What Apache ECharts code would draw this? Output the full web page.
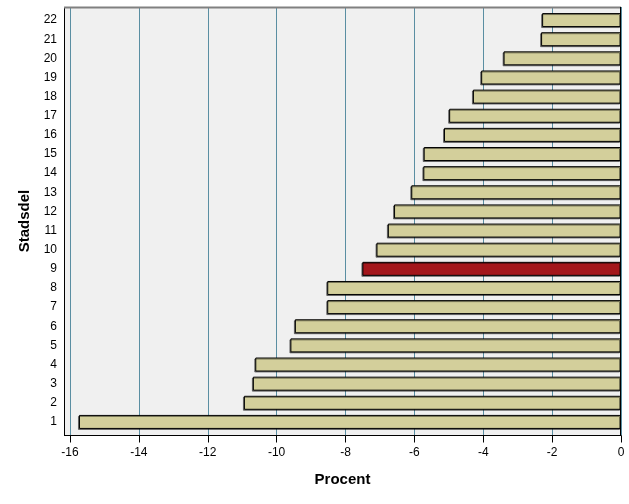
<!DOCTYPE html>
<html>
<head>
<meta charset="utf-8">
<script src="https://cdn.jsdelivr.net/npm/echarts@6/dist/echarts.min.js"></script>
<style>
  html, body { margin: 0; padding: 0; background: #ffffff; }
  #chart { width: 629px; height: 504px; }
</style>
</head>
<body>
<div id="chart"></div>
<script>
// Data
var categories = ['1','2','3','4','5','6','7','8','9','10','11','12','13','14','15','16','17','18','19','20','21','22'];
var values = [-15.74, -10.95, -10.69, -10.62, -9.60, -9.47, -8.53, -8.53, -7.51, -7.10, -6.77, -6.59, -6.09, -5.74, -5.73, -5.14, -4.99, -4.30, -4.06, -3.41, -2.32, -2.29];
var highlighted = '9';
var xTicks = { min: -16, max: 0, step: 2 };
var xTitle = 'Procent';
var yTitle = 'Stadsdel';

var FONT = 'Liberation Sans, Arial, sans-serif';
var barColor = '#d3cf9b';
var hiColor = '#a3161b';
var gridColor = '#5a8ea2';

var seriesData = values.map(function (v, i) {
  return {
    value: v,
    itemStyle: { color: categories[i] === highlighted ? hiColor : barColor }
  };
});

var chart = echarts.init(document.getElementById('chart'), null, { renderer: 'canvas' });
chart.setOption({
  animation: false,
  backgroundColor: '#ffffff',
  grid: [
    { left: 70, right: 8, top: 10.5, bottom: 72.5 },
    { left: 70, right: 8, top: 7, bottom: 68.5, show: true, backgroundColor: '#f0f0f0', borderWidth: 0 }
  ],
  xAxis: [
    { gridIndex: 0, type: 'value', min: xTicks.min, max: xTicks.max, show: false },
    {
      gridIndex: 1, type: 'value', min: xTicks.min, max: xTicks.max, interval: xTicks.step,
      axisLine: { show: true, onZero: false, lineStyle: { color: '#000', width: 1 } },
      axisTick: { show: true, length: 7, lineStyle: { color: '#000' } },
      axisLabel: { color: '#000', fontFamily: FONT, fontSize: 12, margin: 11 },
      splitLine: { show: true, lineStyle: { color: gridColor, width: 1 } },
      name: xTitle, nameLocation: 'middle', nameGap: 37,
      nameTextStyle: { color: '#000', fontFamily: FONT, fontSize: 15, fontWeight: 'bold', padding: [0, 6, 0, 0] }
    }
  ],
  yAxis: [
    {
      gridIndex: 0, type: 'category', data: categories, offset: 6,
      axisLine: { show: false },
      axisTick: { show: true, alignWithLabel: true, length: 6, lineStyle: { color: '#000' } },
      axisLabel: { color: '#000', fontFamily: FONT, fontSize: 12, margin: 7 },
      name: yTitle, nameLocation: 'middle', nameGap: 32, nameRotate: 90,
      nameTextStyle: { color: '#000', fontFamily: FONT, fontSize: 15, fontWeight: 'bold' }
    },
    { gridIndex: 1, type: 'value', min: 0, max: 1, show: false }
  ],
  series: [{
    type: 'bar',
    xAxisIndex: 0, yAxisIndex: 0,
    data: seriesData,
    barWidth: 14,
    itemStyle: {
      borderColor: '#000', borderWidth: 1,
      shadowColor: 'rgba(0,0,0,0.45)', shadowOffsetX: -1, shadowOffsetY: 1, shadowBlur: 0
    },
    z: 3
  }],
  graphic: [
    { type: 'rect', shape: { x: 64, y: 7, width: 6, height: 428.5 }, style: { fill: '#f0f0f0' }, z: -10, silent: true },
    { type: 'line', shape: { x1: 64.5, y1: 7, x2: 64.5, y2: 436 }, style: { stroke: '#000', lineWidth: 1 }, z: 20, silent: true },
    { type: 'line', shape: { x1: 64, y1: 435.5, x2: 70, y2: 435.5 }, style: { stroke: '#000', lineWidth: 1 }, z: 20, silent: true },
    { type: 'line', shape: { x1: 64, y1: 7.5, x2: 621, y2: 7.5 }, style: { stroke: '#808080', lineWidth: 2 }, z: 20, silent: true },
    { type: 'line', shape: { x1: 620.5, y1: 7, x2: 620.5, y2: 436 }, style: { stroke: '#000', lineWidth: 1 }, z: 20, silent: true }
  ]
});
</script>
</body>
</html>
